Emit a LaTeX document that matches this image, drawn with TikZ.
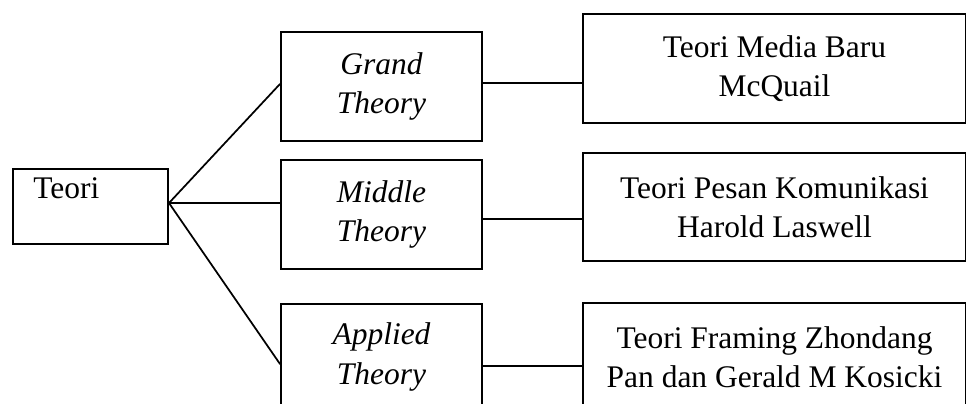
\documentclass[tikz,border=0pt]{standalone}
\usepackage{fontspec}
\setmainfont{Liberation Serif}
\begin{document}
\begin{tikzpicture}[x=0.75pt,y=-0.75pt,
  box/.style={draw=black,line width=1.5pt,rectangle,anchor=north west,inner sep=0pt,
    align=center,font=\fontsize{23.6pt}{29.6pt}\selectfont},
  link/.style={draw=black,line width=1.3pt,line cap=round}]
\useasboundingbox (0,0) rectangle (966,403);
\clip (0,0) rectangle (966,403);
\fill[white] (0,0) rectangle (966,403);
% left box
\node[box,minimum width=116.25pt,minimum height=56.25pt] (teori) at (12,168) {};
\node[anchor=base west,inner sep=0pt,font=\fontsize{23.6pt}{29.6pt}\selectfont] (teoritxt) at (33,198) {Teori};
% middle column
\node[box,minimum width=150.75pt,minimum height=81.75pt] (grand) at (280,31) {\itshape Grand\\\itshape Theory};
\node[box,minimum width=150.75pt,minimum height=81.75pt] (middle) at (280,159) {\itshape Middle\\\itshape Theory};
\node[box,minimum width=150.75pt,minimum height=79.5pt] (applied) at (280,303) {\itshape Applied\\\itshape Theory};
% right column
\node[box,minimum width=287.25pt,minimum height=81.75pt] (r1) at (582,13) {Teori Media Baru\\McQuail};
\node[box,minimum width=287.25pt,minimum height=81pt] (r2) at (582,152) {Teori Pesan Komunikasi\\Harold Laswell};
\node[box,minimum width=287.25pt,minimum height=81pt] (r3) at (582,302) {Teori Framing Zhondang\\Pan dan Gerald M Kosicki};
% connectors
\coordinate (j) at (teori.east |- 0,203);
\coordinate (ga) at ([yshift=1.9pt]grand.west);
\coordinate (aa) at ([yshift=-5.25pt]applied.west);
\draw[link] (j) -- (ga);
\draw[link] (j) -- (j -| middle.west);
\draw[link] (j) -- (aa);
\fill (j) circle (1.3pt);
\coordinate (gb) at ([yshift=2.6pt]grand.east);
\draw[link] (gb) -- (gb -| r1.west);
\coordinate (mb) at ([yshift=-3.4pt]middle.east);
\draw[link] (mb) -- (mb -| r2.west);
\coordinate (ab) at ([yshift=-6.75pt]applied.east);
\draw[link] (ab) -- (ab -| r3.west);
\end{tikzpicture}
\end{document}
